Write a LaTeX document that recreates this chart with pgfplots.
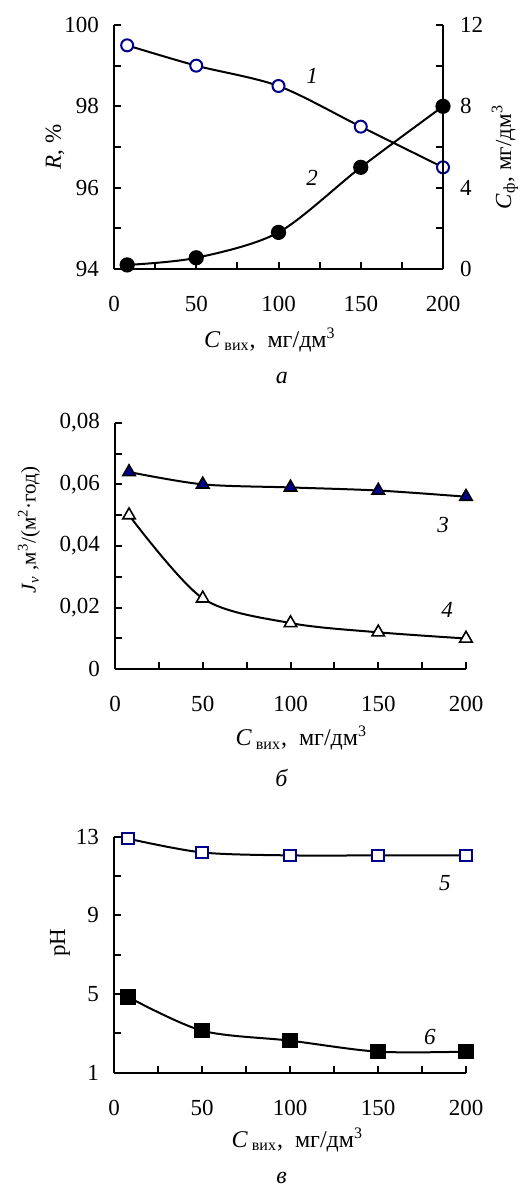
\documentclass[border=0pt]{standalone}
\usepackage{pgfplots}
\pgfplotsset{compat=1.18}
\usepackage{fontspec}
\setmainfont{Liberation Serif}
\definecolor{navy}{RGB}{0,0,140}
\pgfplotsset{
  every axis/.append style={
    scale only axis,
    /pgf/number format/assume math mode=true,
    font=\fontsize{11.5}{13}\selectfont,
    tick align=inside,
    axis line style={line width=1pt},
    major tick style={line width=1pt,black},
    minor tick style={line width=1pt,black},
    major tick length=3.5pt,
    minor tick length=3.5pt,
    xmin=0,xmax=200,
    xtick={0,50,100,150,200},
    minor x tick num=1,
    xticklabel style={yshift=-10pt},
    yticklabel style={xshift=-4pt},
    scaled y ticks=false,
    clip=false,
  },
  curve/.style={black,line width=1pt,smooth},
}
\newcommand{\xlab}{\fontsize{12}{14}\selectfont\textit{C}\,\textsubscript{вих},\ \ мг/дм\textsuperscript{3}}
\begin{document}
\begin{tikzpicture}
\useasboundingbox (0,0) rectangle (260pt,-593pt);
% ---------- panel a ----------
\begin{axis}[
  at={(57pt,-134.5pt)},anchor=south west,
  width=164.5pt,height=122pt,
  axis x line*=bottom, axis y line*=left,
  ymin=94,ymax=100,
  ytick={94,96,98,100},
  minor y tick num=1,
  ylabel={\textit{R}, \%},
  ylabel style={at={(axis description cs:-0.179,0.5)},anchor=center},
  xlabel={\xlab},
  xlabel style={at={(axis description cs:0.474,-0.29)},anchor=center},
]
\addplot[curve,mark=*,mark size=3pt,mark options={fill=white,draw=navy,line width=1pt}]
 coordinates {(8,99.5) (50,99.0) (100,98.5) (150,97.5) (200,96.5)};
\node at (axis cs:120.4,98.75) {\textit{1}};
\node at (axis cs:120.4,96.24) {\textit{2}};
\node at (axis description cs:0.51,-0.447) {\fontsize{12}{14}\selectfont\textit{а}};
\end{axis}
\begin{axis}[
  at={(57pt,-134.5pt)},anchor=south west,
  width=164.5pt,height=122pt,
  axis x line=none, axis y line*=right,
  ymin=0,ymax=12,
  ytick={0,4,8,12},
  minor y tick num=1,
  yticklabel style={xshift=9pt},
  ylabel={\textit{C}\textsubscript{ф}, мг/дм\textsuperscript{3}},
  ylabel style={at={(axis description cs:1.188,0.459)},anchor=center},
]
\addplot[curve,mark=*,mark size=3.3pt,mark options={fill=black,draw=black}]
 coordinates {(8,0.2) (50,0.55) (100,1.8) (150,5.0) (200,8.0)};
\end{axis}
% ---------- panel b ----------
\begin{axis}[
  at={(57.5pt,-334.65pt)},anchor=south west,
  width=175.5pt,height=123.3pt,
  axis x line*=bottom, axis y line*=left,
  ymin=0,ymax=0.08,
  ytick={0,0.02,0.04,0.06,0.08},
  yticklabels={0,{0,02},{0,04},{0,06},{0,08}},
  minor y tick num=1,
  ylabel={\fontsize{10.5}{12}\selectfont\textit{J}\textsubscript{\textit{v}} ,м\textsuperscript{3}/(м\textsuperscript{2}·год)},
  ylabel style={at={(axis description cs:-0.245,0.565)},anchor=center},
  xlabel={\xlab},
  xlabel style={at={(axis description cs:0.531,-0.28)},anchor=center},
]
\addplot[curve,mark=triangle*,mark size=3.6pt,mark options={fill=navy,draw=black,line width=0.8pt}]
 coordinates {(8,0.064) (50,0.060) (100,0.059) (150,0.058) (200,0.056)};
\addplot[curve,mark=triangle*,mark size=3.6pt,mark options={fill=white,draw=black,line width=0.8pt}]
 coordinates {(8,0.050) (50,0.023) (100,0.015) (150,0.012) (200,0.010)};
\node at (axis cs:186.9,0.0468) {\textit{3}};
\node at (axis cs:189.2,0.0192) {\textit{4}};
\node at (axis description cs:0.475,-0.44) {\fontsize{12}{14}\selectfont\textit{б}};
\end{axis}
% ---------- panel c ----------
\begin{axis}[
  at={(57pt,-536.35pt)},anchor=south west,
  width=176pt,height=118pt,
  axis x line*=bottom, axis y line*=left,
  ymin=1,ymax=13,
  ytick={1,5,9,13},
  minor ytick={3,7,11},
  ylabel={pH},
  ylabel style={at={(axis description cs:-0.153,0.55)},anchor=center},
  xlabel={\xlab},
  xlabel style={at={(axis description cs:0.521,-0.285)},anchor=center},
]
\addplot[curve,mark=square*,mark size=2.8pt,mark options={fill=white,draw=navy,line width=1pt}]
 coordinates {(8,12.9) (50,12.2) (100,12.05) (150,12.05) (200,12.05)};
\addplot[curve,mark=square*,mark size=3.3pt,mark options={fill=black,draw=black}]
 coordinates {(8,4.85) (50,3.14) (100,2.63) (150,2.07) (200,2.07)};
\node at (axis cs:188,10.64) {\textit{5}};
\node at (axis cs:179.5,2.82) {\textit{6}};
\node at (axis description cs:0.476,-0.445) {\fontsize{12}{14}\selectfont\textit{в}};
\end{axis}
\end{tikzpicture}
\end{document}
